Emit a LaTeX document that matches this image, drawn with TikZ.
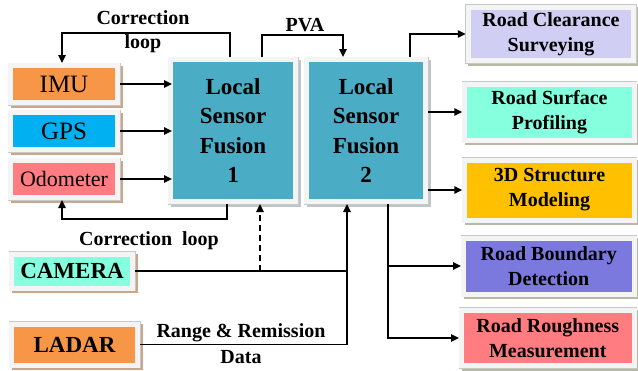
\documentclass[tikz,border=0pt]{standalone}
\usepackage{fontspec}
\setmainfont{Liberation Serif}
\usetikzlibrary{arrows.meta,calc}
\definecolor{framefill}{HTML}{F4F4F4}
\definecolor{frameline}{HTML}{C8C8C8}
\definecolor{shL}{HTML}{CBA688}
\definecolor{shR}{HTML}{B5B9A6}
\definecolor{shF}{HTML}{BCC6CC}
\definecolor{cOrange}{HTML}{F79646}
\definecolor{cGps}{HTML}{00B0F0}
\definecolor{cPink}{HTML}{FF7C80}
\definecolor{cFusion}{HTML}{4BACC6}
\definecolor{cAqua}{HTML}{86FFDE}
\definecolor{cLav}{HTML}{D0CEF2}
\definecolor{cGold}{HTML}{FFC000}
\definecolor{cViolet}{HTML}{7B78DE}
\colorlet{shc}{shL}
\begin{document}
\begin{tikzpicture}[x=1pt,y=-1pt,
  shadowcol/.code={\colorlet{shc}{#1}},
  boxbase/.style={draw=framefill, line width=5pt, inner sep=0pt, align=center, text=black,
     preaction={fill=shc, draw=shc, line width=5pt, transform canvas={shift={(2.5pt,-2.5pt)}}},
     preaction={draw=frameline, line width=6pt}},
  leftbox/.style={boxbase, shadowcol=shL, minimum width=107pt, minimum height=37pt},
  fusbox/.style={boxbase, shadowcol=shF, fill=cFusion, minimum height=142pt,
     font=\bfseries\fontsize{23}{29.5}\selectfont},
  rightbox/.style={boxbase, shadowcol=shR, font=\bfseries\fontsize{20}{25}\selectfont},
  lbl/.style={font=\bfseries\fontsize{20}{24}\selectfont, inner sep=0pt},
  conn/.style={line width=1.6pt, draw=black},
  arr/.style={conn, -{Triangle[length=8pt,width=7.5pt]}},
]
\useasboundingbox (0,0) rectangle (638,370);

% left sensor boxes
\node[leftbox, fill=cOrange, font=\fontsize{25}{30}\selectfont] (imu) at (64,84) {IMU};
\node[leftbox, fill=cGps, font=\fontsize{25}{30}\selectfont] (gps) at (64,131) {GPS};
\node[leftbox, fill=cPink, font=\fontsize{22}{26}\selectfont] (odo) at (64,179) {Odometer};
\node[boxbase, shadowcol=shL, fill=cAqua, minimum width=121pt, minimum height=34pt,
      font=\bfseries\fontsize{23}{28}\selectfont] (cam) at (72,271) {CAMERA};
\node[boxbase, shadowcol=shL, fill=cOrange, minimum width=126pt, minimum height=41pt,
      font=\bfseries\fontsize{23}{28}\selectfont] (lad) at (74.5,344.5) {LADAR};

% fusion boxes
\node[fusbox, minimum width=125pt] (f1) at (233,130.5) {Local\\Sensor\\Fusion\\1};
\node[fusbox, minimum width=119pt] (f2) at (366,130.5) {Local\\Sensor\\Fusion\\2};

% right boxes
\node[rightbox, fill=cLav, minimum width=165.5pt, minimum height=53.5pt] (rc) at (551,34) {Road Clearance\\Surveying};
\node[rightbox, fill=cAqua, minimum width=169.5pt, minimum height=56pt] (rs) at (549.5,112) {Road Surface\\Profiling};
\node[rightbox, fill=cGold, minimum width=169.5pt, minimum height=60pt] (td) at (549.5,190) {3D Structure\\Modeling};
\node[rightbox, fill=cViolet, minimum width=170.5pt, minimum height=56pt] (rb) at (548.75,266) {Road Boundary\\Detection};
\node[rightbox, fill=cPink, minimum width=172.5pt, minimum height=55.5pt] (rr) at (547.75,338) {Road Roughness\\Measurement};

% coordinates
\coordinate (ctop) at (62,33);
\coordinate (cx1) at (230,0);
\coordinate (pva1) at (262,35);
\coordinate (pva2) at (343,35);
\coordinate (cx2) at (227,0);
\coordinate (cbot) at (62,219);
\coordinate (jd) at (260,271);
\coordinate (jx) at (347,0);
\coordinate (o1) at (410,0);
\coordinate (o2) at (388,0);

% sensors into fusion 1
\draw[arr, shorten >=-4pt] (imu.east) -- (imu.east -| f1.west);
\draw[arr, shorten >=-4pt] (gps.east) -- (gps.east -| f1.west);
\draw[arr, shorten >=-4pt] (odo.east) -- (odo.east -| f1.west);

% correction loops
\draw[arr] (f1.north -| cx1) |- (ctop) -- (ctop |- imu.north);
\draw[arr] (f1.south -| cx2) |- (cbot) -- (cbot |- odo.south);

% PVA
\draw[arr] (f1.north -| pva1) -- (pva1) -- (pva2) -- (pva2 |- f2.north);

% camera and ladar
\draw[conn] (cam.east) -- (cam.east -| jx);
\draw[arr, dash pattern=on 6pt off 4pt] (jd) -- (jd |- f1.south);
\draw[arr] (lad.east) -| (f2.south -| jx);

% outputs
\draw[arr] (f2.north -| o1) |- (rc.west);
\draw[arr] (rs.west -| f2.east) -- (rs.west);
\draw[arr] (td.west -| f2.east) -- (td.west);
\draw[arr] (f2.south -| o2) |- (rr.west);
\draw[arr] (rb.west -| o2) -- (rb.west);

% labels
\node[lbl] (l1) at (143,18) {Correction};
\node[lbl] (l2) at (143,44) {loop};
\node[lbl] (l3) at (305,25) {PVA};
\node[lbl] (l4) at (149,241) {Correction\ \ loop};
\node[lbl] (l5) at (241,333) {Range \& Remission};
\node[lbl] (l6) at (241,357) {Data};
\end{tikzpicture}
\end{document}
